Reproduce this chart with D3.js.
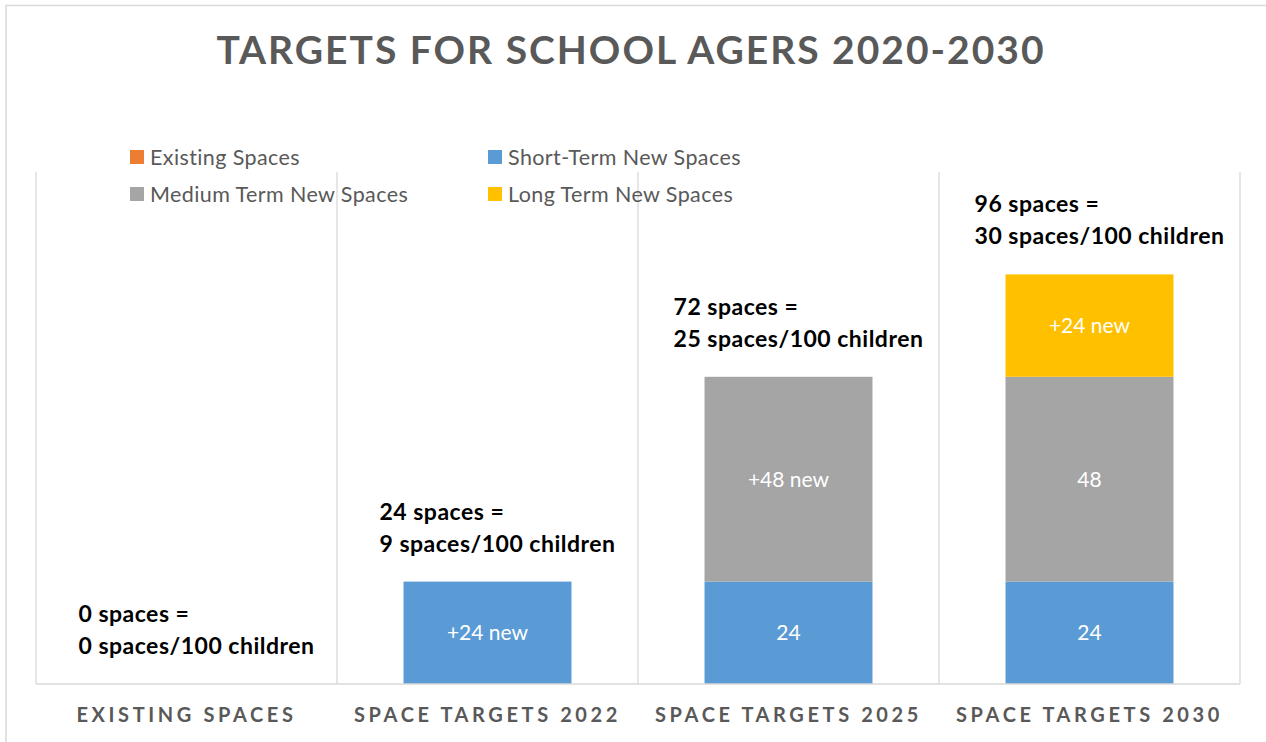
<!DOCTYPE html>
<html>
<head>
<meta charset="utf-8">
<script src="https://cdn.jsdelivr.net/npm/d3@7"></script>
<style>
  html, body { margin: 0; padding: 0; background: #fff; }
  svg { display: block; }
  text { font-family: Lato, "Open Sans", sans-serif; }
</style>
</head>
<body>
<svg id="chart" width="1266" height="742"></svg>
<script>
// Categories along the x axis
const categories = ["EXISTING SPACES", "SPACE TARGETS 2022", "SPACE TARGETS 2025", "SPACE TARGETS 2030"];

// Stacked series values (spaces)
const existingSpaces   = [0, 0, 0, 0];
const shortTermSpaces  = [0, 24, 24, 24];
const mediumTermSpaces = [0, 0, 48, 48];
const longTermSpaces   = [0, 0, 0, 24];

// Series names (legend) and labels shown inside each segment
const seriesNames = ["Existing Spaces", "Short-Term New Spaces", "Medium Term New Spaces", "Long Term New Spaces"];
const shortTermLabels  = ["", "+24 new", "24", "24"];
const mediumTermLabels = ["", "", "+48 new", "48"];
const longTermLabels   = ["", "", "", "+24 new"];

// Totals and rates shown above each column
const totalSpaces = [0, 24, 72, 96];
const spacesPer100 = [0, 9, 25, 30];

const colors = ["#ED7D31", "#5B9BD5", "#A5A5A5", "#FFC000"];
const yMax = 120;

const svg = d3.select("#chart");
const W = 1266, H = 742;
const plot = { left: 36, right: 1240, top: 172, bottom: 684 };

// chart-area border (top and left edges visible)
svg.append("path")
  .attr("d", `M6,${H} V5.5 H${W}`)
  .attr("fill", "none").attr("stroke", "#D9D9D9").attr("stroke-width", 1.5);

// Title
svg.append("text")
  .attr("x", 631).attr("y", 64)
  .attr("text-anchor", "middle")
  .attr("font-size", 39).attr("font-weight", 700)
  .attr("letter-spacing", 2)
  .attr("fill", "#595959")
  .text("TARGETS FOR SCHOOL AGERS 2020-2030");

const x = d3.scaleBand()
  .domain(categories)
  .range([plot.left, plot.right])
  .paddingInner(0.442)
  .paddingOuter(0.221);

const y = d3.scaleLinear().domain([0, yMax]).range([plot.bottom, plot.top]);

// Column dividers (vertical gridlines between categories)
const step = x.step();
const dividerXs = d3.range(categories.length + 1).map(i => plot.left + i * step);
svg.append("g").selectAll("line").data(dividerXs).join("line")
  .attr("x1", d => d).attr("x2", d => d)
  .attr("y1", plot.top).attr("y2", plot.bottom)
  .attr("stroke", "#D9D9D9").attr("stroke-width", 1.3);

// Stack the series
const rows = categories.map((c, i) => ({
  cat: c,
  existing: existingSpaces[i],
  short: shortTermSpaces[i],
  medium: mediumTermSpaces[i],
  long: longTermSpaces[i]
}));
const keys = ["existing", "short", "medium", "long"];
const segLabels = { existing: categories.map(() => ""), short: shortTermLabels, medium: mediumTermLabels, long: longTermLabels };
const stacked = d3.stack().keys(keys)(rows);

const layers = svg.append("g").selectAll("g").data(stacked).join("g")
  .attr("fill", (d, i) => colors[i]);

layers.selectAll("rect").data(d => d.map(v => ({ v, key: d.key })))
  .join("rect")
  .attr("x", d => x(d.v.data.cat))
  .attr("width", x.bandwidth())
  .attr("y", d => y(d.v[1]))
  .attr("height", d => y(d.v[0]) - y(d.v[1]));

// Segment value labels
layers.selectAll("text").data(d => d.map((v, i) => ({ v, key: d.key, i })))
  .join("text")
  .filter(d => d.v[1] > d.v[0] && segLabels[d.key][d.i])
  .attr("x", d => x(d.v.data.cat) + x.bandwidth() / 2)
  .attr("y", d => (y(d.v[0]) + y(d.v[1])) / 2)
  .attr("dy", "0.35em")
  .attr("text-anchor", "middle")
  .attr("font-size", 21)
  .attr("fill", "#fff")
  .text(d => segLabels[d.key][d.i]);

// Baseline
svg.append("line")
  .attr("x1", plot.left).attr("x2", plot.right)
  .attr("y1", plot.bottom).attr("y2", plot.bottom)
  .attr("stroke", "#D9D9D9").attr("stroke-width", 1.5);

// Category axis labels
const xAxis = svg.append("g")
  .attr("transform", `translate(0,${plot.bottom})`)
  .call(d3.axisBottom(x).tickSize(0).tickPadding(0));
xAxis.select(".domain").remove();
xAxis.selectAll("text")
  .attr("y", 38)
  .attr("dy", 0)
  .attr("font-family", "Lato, 'Open Sans', sans-serif")
  .attr("font-size", 20)
  .attr("font-weight", 700)
  .attr("letter-spacing", 3.6)
  .attr("fill", "#595959");

// Total annotations above each column
const notes = svg.append("g");
categories.forEach((c, i) => {
  const top = y(totalSpaces[i]);
  const g = notes.append("g");
  const lines = [`${totalSpaces[i]} spaces =`, `${spacesPer100[i]} spaces/100 children`];
  const t = lines.map((s, j) => g.append("text")
    .attr("y", top - 38 - (1 - j) * 32)
    .attr("dy", "0.35em")
    .attr("font-size", 23)
    .attr("font-weight", 700)
    .attr("letter-spacing", 0.5)
    .attr("fill", "#000")
    .text(s));
  const wMax = d3.max(t, n => n.node().getComputedTextLength());
  const left = x(c) + x.bandwidth() / 2 + 10 - wMax / 2;
  t.forEach(n => n.attr("x", left));
});

// Legend (two rows, two columns)
const legend = svg.append("g");
const legendPos = [[130, 157], [488, 157], [130, 194], [488, 194]];
seriesNames.forEach((name, i) => {
  const [lx, ly] = legendPos[i];
  legend.append("rect")
    .attr("x", lx).attr("y", ly - 7).attr("width", 14).attr("height", 14)
    .attr("fill", colors[i]);
  legend.append("text")
    .attr("x", lx + 20).attr("y", ly).attr("dy", "0.35em")
    .attr("font-size", 21.5).attr("letter-spacing", 0.4)
    .attr("fill", "#595959")
    .text(name);
});
</script>
</body>
</html>
